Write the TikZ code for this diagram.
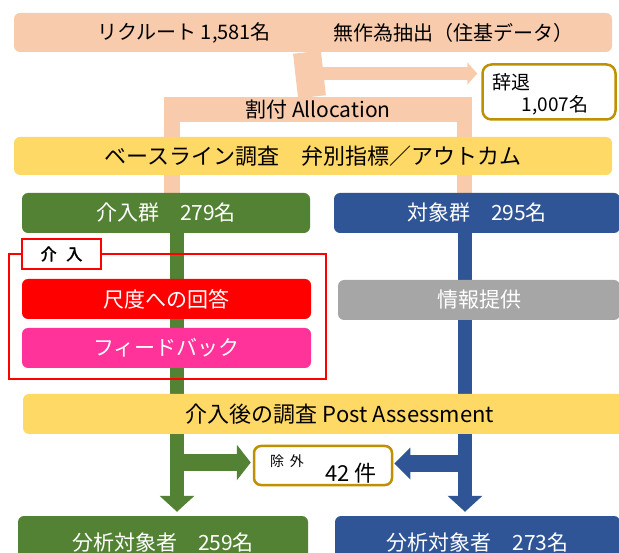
\documentclass[tikz,border=0pt]{standalone}
\usepackage{fontspec}
\setmainfont{Noto Sans CJK JP}
\newfontfamily\cjkbold[FakeBold=2.5]{Noto Sans CJK JP}
\usetikzlibrary{arrows.meta,calc}
\pgfdeclarelayer{background}
\pgfsetlayers{background,main}
\definecolor{peach}{HTML}{F8CBAD}
\definecolor{ylw}{HTML}{FFD966}
\definecolor{grn}{HTML}{548235}
\definecolor{blu}{HTML}{2F5597}
\definecolor{rd}{HTML}{FF0000}
\definecolor{pnk}{HTML}{FF3399}
\definecolor{gry}{HTML}{A6A6A6}
\definecolor{gold}{HTML}{BF9000}
\begin{document}
\begin{tikzpicture}[x=1pt,y=-1pt,
  bar/.style={rectangle, rounded corners=6pt, inner sep=0pt},
  t14/.style={font=\fontsize{14}{14}\selectfont},
  t16/.style={font=\fontsize{16}{16}\selectfont},
  t19/.style={font=\fontsize{19}{19}\selectfont},
  t20/.style={font=\fontsize{20}{20}\selectfont},
  t21/.style={font=\fontsize{21}{21}\selectfont},
  t22/.style={font=\fontsize{22}{22}\selectfont},
  wbox/.style={bar, t21, text=white, minimum height=40pt},
  goldbox/.style={bar, draw=gold, line width=2.5pt, fill=white}
]
\useasboundingbox (0,0) rectangle (619,553);
\clip (0,0) rectangle (619,553);

% top
\node[bar, fill=peach, minimum width=598pt, minimum height=39pt] (top) at (313,32.5) {};
\node[t20] (topL) at (184,33) {リクルート 1,581名};
\node[t20] (topR) at (453,33) {無作為抽出（住基データ）};

% jitai
\node[goldbox, rounded corners=9pt, minimum width=133pt, minimum height=55pt] (jt) at (549,92) {};
\node[t19] (jtA) at (511,82) {辞退};
\node[t19] (jtB) at (555,105) {1,007名};

% allocation
\node[rectangle, inner sep=0pt, fill=peach, minimum width=308pt, minimum height=25pt, t21] (al) at (318,109.5) {割付 Allocation};

% baseline
\node[bar, fill=ylw, minimum width=598pt, minimum height=38pt, t22] (bs) at (313,156) {ベースライン調査　弁別指標／アウトカム};

% groups
\node[wbox, fill=grn, minimum width=288pt] (gI) at (166,213) {介入群　279名};
\node[wbox, fill=blu, minimum width=286pt] (gC) at (477,213) {対象群　295名};

% intervention frame
\node[draw=rd, line width=1.8pt, inner sep=0pt, minimum width=317pt, minimum height=125pt] (fr) at (167.5,316.5) {};
\node[draw=rd, fill=white, line width=1.8pt, inner sep=0pt, minimum width=79pt, minimum height=30pt, t16] (lb) at (61.5,254) {\cjkbold 介\hspace{0.6em}入};
\node[wbox, fill=rd, minimum width=289pt] (rA) at (166.5,299) {尺度への回答};
\node[wbox, fill=pnk, minimum width=289pt] (rF) at (166.5,348) {フィードバック};
\node[wbox, fill=gry, minimum width=282pt] (info) at (479,300) {情報提供};

% post
\node[bar, fill=ylw, minimum width=634pt, minimum height=40pt, t22] (post) at (340,414) {介入後の調査 Post Assessment};

% exclusion
\node[goldbox, rounded corners=7pt, minimum width=138pt, minimum height=39pt] (ex) at (323,465.5) {};
\node[t14] (exA) at (287,461) {除\hspace{0.4em}外};
\node[t22] (exB) at (351,473) {42 件};

% final
\node[bar, fill=grn, text=white, t21, minimum width=290pt, minimum height=54pt] (aI) at (163,543) {分析対象者　259名};
\node[bar, fill=blu, text=white, t21, minimum width=285pt, minimum height=54pt] (aC) at (477.5,543) {分析対象者　273名};

% connectors
\coordinate (lL) at ([xshift=8pt]al.south west);
\coordinate (lR) at ([xshift=-7.5pt]al.south east);
\coordinate (vI) at ([xshift=11pt]gI.south);
\coordinate (vC) at ([xshift=-12pt]gC.south);
\coordinate (br) at (307,73.5);
\begin{pgfonlayer}{background}
  \draw[peach, line width=28pt] ([xshift=-6pt]top.south) -- ([xshift=-6pt]al.north);
  \draw[peach, line width=13pt, -{Triangle[length=10pt,width=22pt]}, shorten >=4pt] (br) -- (br -| jt.west);
  \draw[peach, line width=16pt] (lL) -- (lL |- gI.north);
  \draw[peach, line width=15pt] (lR) -- (lR |- gC.north);
  \draw[grn, line width=14pt] (vI) -- (vI |- post.north);
  \draw[blu, line width=14pt] (vC) -- (vC |- post.north);
\end{pgfonlayer}
\coordinate (dI) at (vI |- post.south);
\coordinate (dC) at (vC |- post.south);
\draw[grn, line width=14pt, -{Triangle[length=16pt,width=34pt]}, shorten >=4pt] (dI) -- (dI |- aI.north);
\draw[blu, line width=14pt, -{Triangle[length=16pt,width=34pt]}, shorten >=4pt] (dC) -- (dC |- aC.north);
\coordinate (hI) at ($(vI |- ex.west)+(0,-3)$);
\coordinate (hC) at ($(vC |- ex.east)+(0,-2)$);
\draw[grn, line width=16pt, -{Triangle[length=14pt,width=35pt]}, shorten >=2pt] (hI) -- (hI -| ex.west);
\draw[blu, line width=16pt, -{Triangle[length=16pt,width=31pt]}, shorten >=1pt] (hC) -- (hC -| ex.east);
\end{tikzpicture}
\end{document}
